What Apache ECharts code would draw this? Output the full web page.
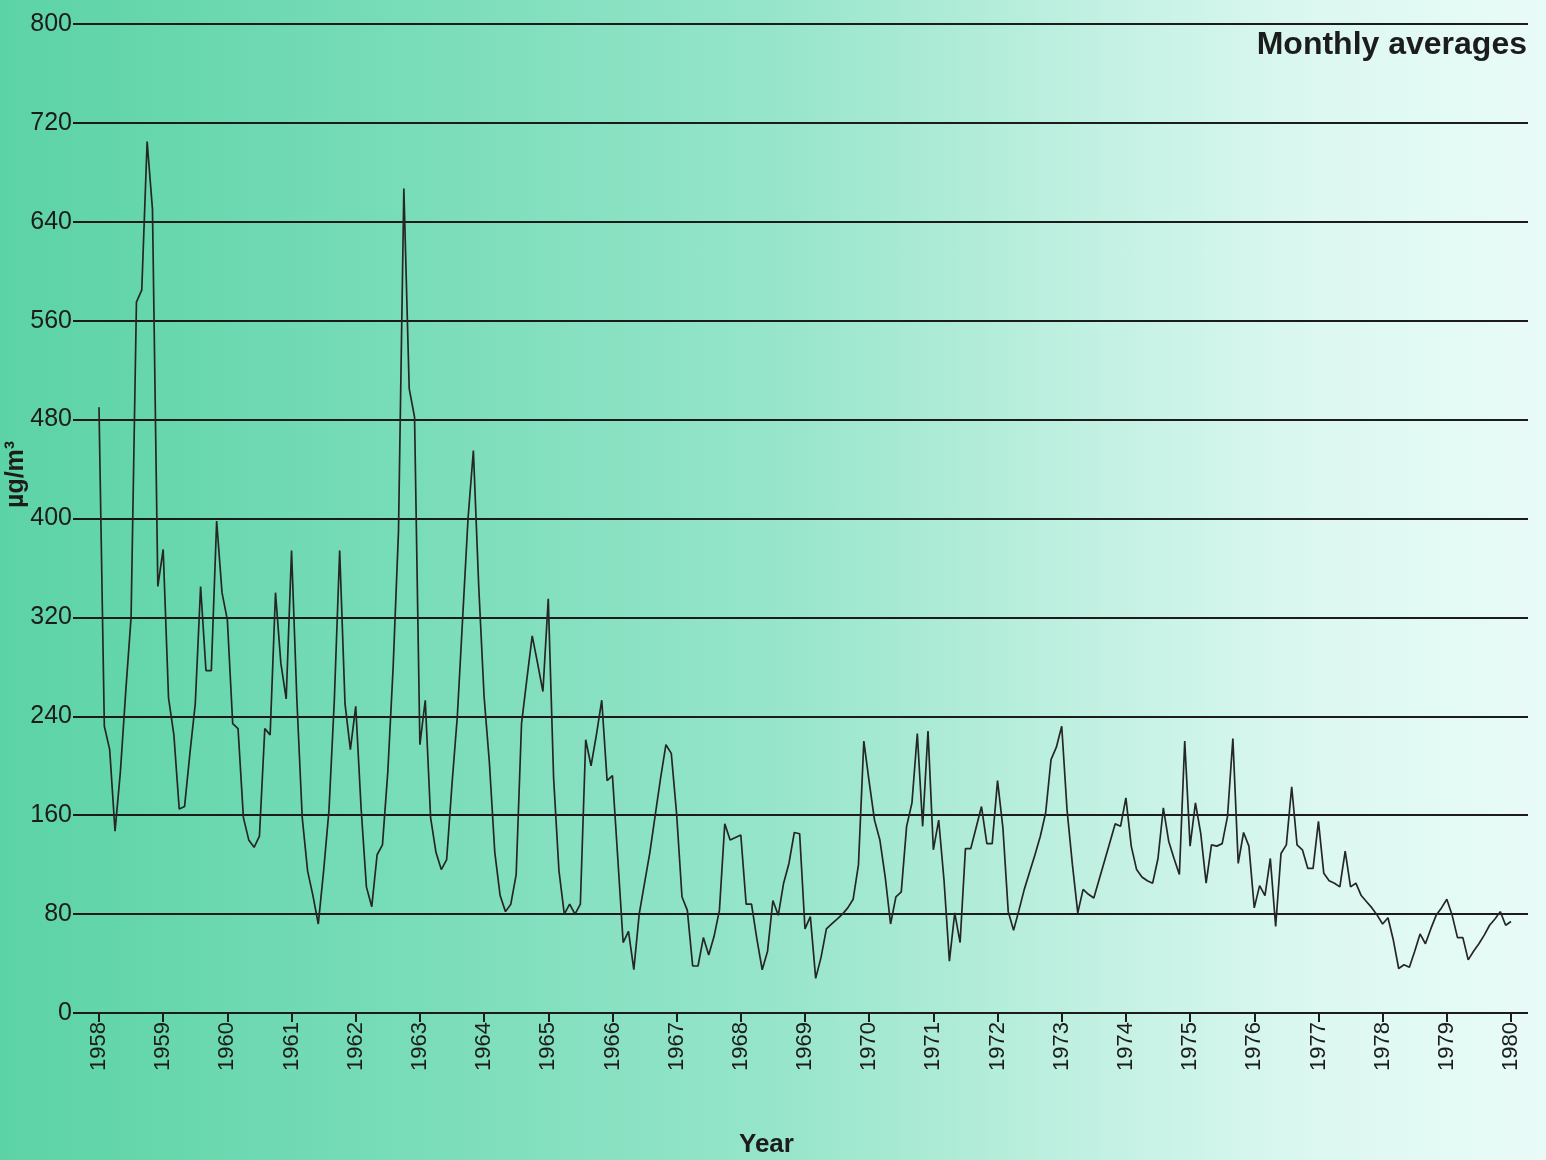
<!DOCTYPE html>
<html>
<head>
<meta charset="utf-8">
<script src="https://cdn.jsdelivr.net/npm/echarts@6/dist/echarts.min.js"></script>
<style>
  html, body { margin: 0; padding: 0; }
  #chart {
    width: 1546px; height: 1160px;
    background: linear-gradient(to right, #5cd3a6 0%, #77dcb8 25%, #96e5ca 50%, #c0f0e1 70%, #dcf8f0 85%, #e9fbf8 100%);
  }
</style>
</head>
<body>
<div id="chart"></div>
<script>
// ---- data (µg/m³, monthly averages, Jan 1958 .. Jan 1980) ----
const tickYears = [1958,1959,1960,1961,1962,1963,1964,1965,1966,1967,1968,1969,1970,1971,1972,1973,1974,1975,1976,1977,1978,1979,1980];
const yTicks = [0,80,160,240,320,400,480,560,640,720,800];

const y1958 = [490, 232, 213, 147, 195, 260, 320, 575, 585, 705, 650, 345];
const y1959 = [375, 255, 225, 165, 167, 210, 250, 345, 277, 277, 398, 340];
const y1960 = [318, 234, 230, 158, 140, 134, 143, 230, 225, 340, 283, 254];
const y1961 = [374, 253, 158, 115, 95, 72, 115, 164, 253, 374, 250, 213];
const y1962 = [248, 166, 102, 86, 128, 136, 195, 280, 390, 667, 505, 482];
const y1963 = [217, 253, 158, 130, 116, 124, 185, 240, 320, 400, 455, 345];
const y1964 = [256, 202, 130, 95, 82, 88, 112, 234, 270, 305, 283, 260];
const y1965 = [335, 190, 115, 80, 88, 80, 88, 221, 200, 225, 253, 188];
const y1966 = [192, 125, 57, 66, 35, 80, 105, 130, 160, 190, 217, 210];
const y1967 = [161, 94, 83, 38, 38, 61, 47, 62, 83, 153, 140, 142];
const y1968 = [144, 88, 88, 60, 35, 50, 91, 79, 105, 121, 146, 145];
const y1969 = [68, 78, 28, 45, 68, 72, 76, 80, 85, 92, 120, 220];
const y1970 = [187, 156, 140, 110, 72, 94, 98, 151, 170, 226, 151, 228];
const y1971 = [132, 156, 107, 42, 81, 57, 133, 133, 150, 167, 137, 137];
const y1972 = [188, 150, 82, 67, 83, 100, 114, 128, 143, 162, 205, 215];
const y1973 = [232, 164, 120, 81, 100, 96, 93, 108, 123, 138, 153, 151];
const y1974 = [174, 135, 116, 110, 107, 105, 125, 166, 139, 125, 112, 220];
const y1975 = [135, 170, 145, 105, 136, 135, 137, 159, 222, 121, 146, 135];
const y1976 = [85, 103, 95, 125, 70, 129, 136, 183, 136, 132, 117, 117];
const y1977 = [155, 113, 107, 105, 102, 131, 102, 105, 95, 90, 85, 79];
const y1978 = [72, 77, 59, 36, 39, 37, 50, 64, 56, 68, 79, 85];
const y1979 = [92, 79, 61, 61, 43, 50, 56, 63, 71, 76, 82, 71];
const y1980 = [74];

const monthly = [].concat(y1958, y1959, y1960, y1961, y1962, y1963, y1964, y1965,
  y1966, y1967, y1968, y1969, y1970, y1971, y1972, y1973, y1974, y1975, y1976,
  y1977, y1978, y1979, y1980);
const seriesData = monthly.map((v, i) => [tickYears[0] + i / 12, v]);

const FONT = "'Liberation Sans', Arial, Helvetica, sans-serif";
const INK = '#1c1c1c';

const chart = echarts.init(document.getElementById('chart'), null, { renderer: 'canvas' });
chart.setOption({
  backgroundColor: 'transparent',
  animation: false,
  grid: { left: 73, right: 18, top: 24, bottom: 147, containLabel: false },
  xAxis: {
    type: 'value',
    min: 1957.595,
    max: 1980.265,
    axisLine: { show: false },
    splitLine: { show: false },
    axisTick: {
      show: true, length: 9, customValues: tickYears,
      lineStyle: { color: INK, width: 2 }
    },
    axisLabel: {
      show: true, customValues: tickYears, rotate: 90, margin: 9,
      fontFamily: FONT, fontSize: 22, color: INK,
      formatter: v => String(Math.round(v))
    }
  },
  yAxis: {
    type: 'value',
    min: 0, max: 800, interval: 80,
    axisLine: { show: false },
    axisTick: { show: false },
    splitLine: { show: true, lineStyle: { color: INK, width: 2 } },
    axisLabel: {
      margin: 1, fontFamily: FONT, fontSize: 25, color: INK,
      customValues: yTicks
    }
  },
  graphic: [
    { type: 'text', right: 19, top: 29,
      style: { text: 'Monthly averages', font: 'bold 32px ' + FONT, fill: INK } },
    { type: 'text', left: 739, top: 1132,
      style: { text: 'Year', font: 'bold 26px ' + FONT, fill: INK } },
    { type: 'text', x: 4, y: 508, rotation: Math.PI / 2,
      style: { text: 'µg/m³', font: 'bold 25px ' + FONT, fill: INK } }
  ],
  series: [{
    type: 'line',
    data: seriesData,
    showSymbol: false,
    symbol: 'none',
    lineStyle: { color: '#262626', width: 1.7 },
    z: 5
  }]
});
</script>
</body>
</html>
